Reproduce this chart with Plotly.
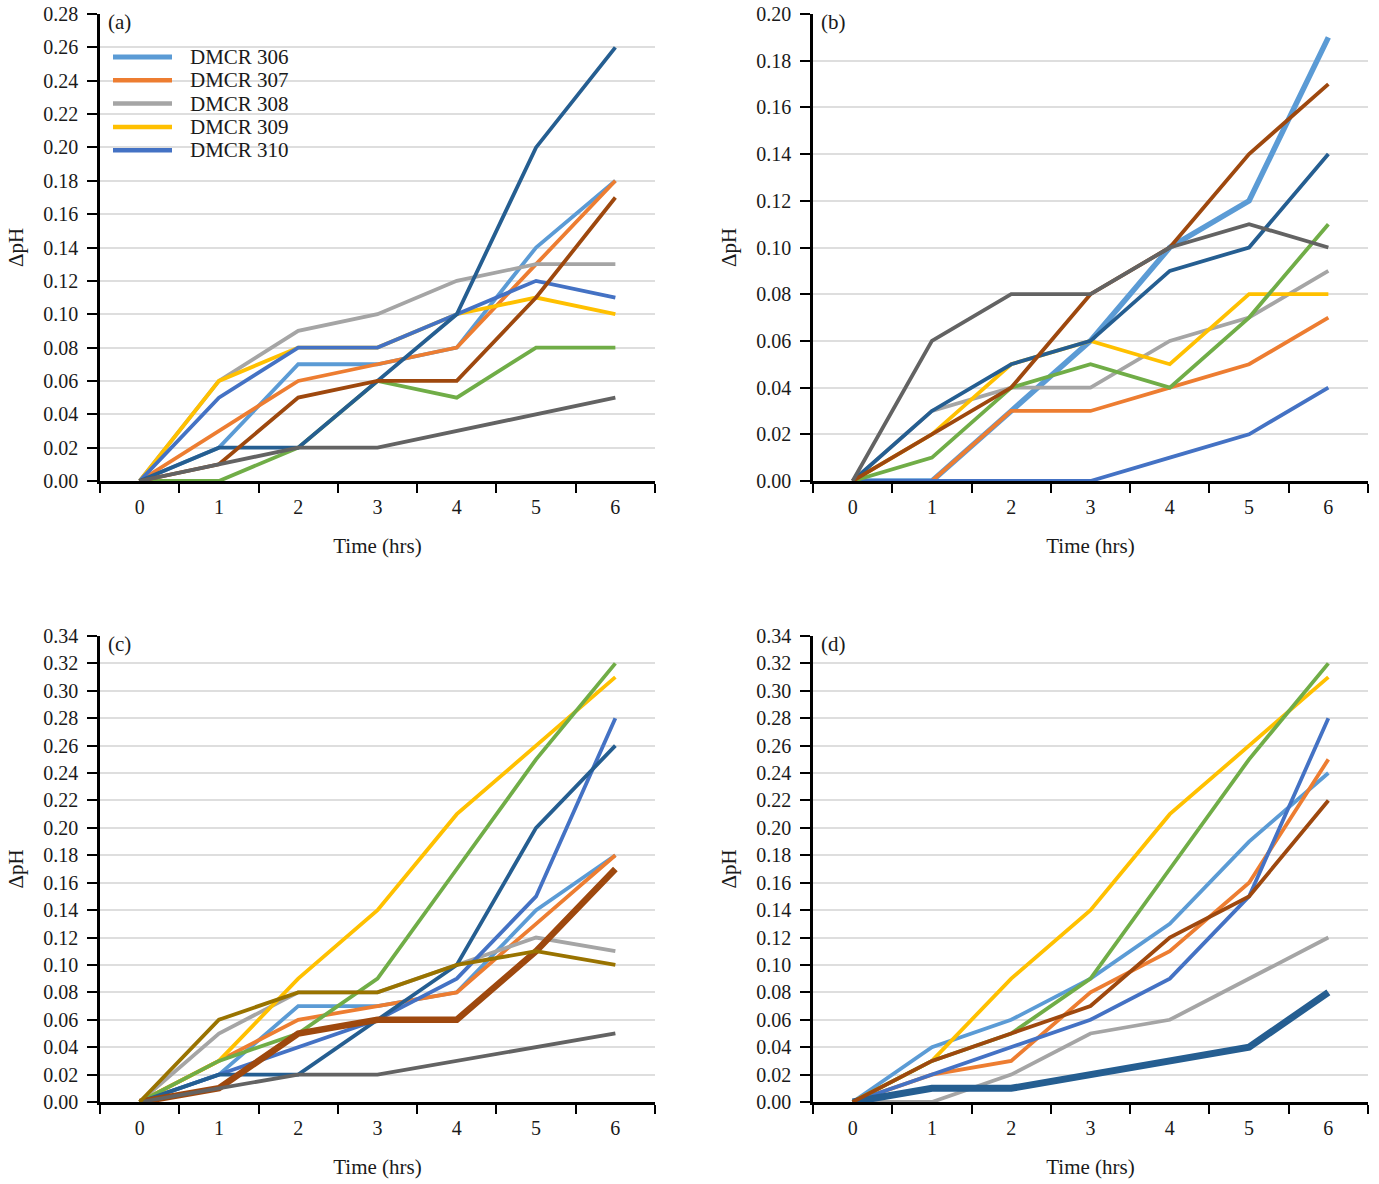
import plotly.graph_objects as go

HOURS = ["0", "1", "2", "3", "4", "5", "6"]
NAMES = ["DMCR 306", "DMCR 307", "DMCR 308", "DMCR 309", "DMCR 310",
         "DMCR 311", "DMCR 312", "DMCR 313", "DMCR 314", "DMCR 315"]

# panel (a)
PANEL_A = [
    [0, 0.02, 0.07, 0.07, 0.08, 0.14, 0.18],
    [0, 0.03, 0.06, 0.07, 0.08, 0.13, 0.18],
    [0, 0.06, 0.09, 0.10, 0.12, 0.13, 0.13],
    [0, 0.06, 0.08, 0.08, 0.10, 0.11, 0.10],
    [0, 0.05, 0.08, 0.08, 0.10, 0.12, 0.11],
    [0, 0.00, 0.02, 0.06, 0.05, 0.08, 0.08],
    [0, 0.02, 0.02, 0.06, 0.10, 0.20, 0.26],
    [0, 0.01, 0.05, 0.06, 0.06, 0.11, 0.17],
    [0, 0.01, 0.02, 0.02, 0.03, 0.04, 0.05],
]

# panel (b)
PANEL_B = [
    [0, 0.00, 0.03, 0.06, 0.10, 0.12, 0.19],
    [0, 0.00, 0.03, 0.03, 0.04, 0.05, 0.07],
    [0, 0.03, 0.04, 0.04, 0.06, 0.07, 0.09],
    [0, 0.02, 0.05, 0.06, 0.05, 0.08, 0.08],
    [0, 0.00, 0.00, 0.00, 0.01, 0.02, 0.04],
    [0, 0.01, 0.04, 0.05, 0.04, 0.07, 0.11],
    [0, 0.03, 0.05, 0.06, 0.09, 0.10, 0.14],
    [0, 0.02, 0.04, 0.08, 0.10, 0.14, 0.17],
    [0, 0.06, 0.08, 0.08, 0.10, 0.11, 0.10],
]

# panel (c)
PANEL_C = [
    [0, 0.02, 0.07, 0.07, 0.08, 0.14, 0.18],
    [0, 0.03, 0.06, 0.07, 0.08, 0.13, 0.18],
    [0, 0.05, 0.08, 0.08, 0.10, 0.12, 0.11],
    [0, 0.03, 0.09, 0.14, 0.21, 0.26, 0.31],
    [0, 0.02, 0.04, 0.06, 0.09, 0.15, 0.28],
    [0, 0.03, 0.05, 0.09, 0.17, 0.25, 0.32],
    [0, 0.02, 0.02, 0.06, 0.10, 0.20, 0.26],
    [0, 0.01, 0.05, 0.06, 0.06, 0.11, 0.17],
    [0, 0.01, 0.02, 0.02, 0.03, 0.04, 0.05],
    [0, 0.06, 0.08, 0.08, 0.10, 0.11, 0.10],
]

# panel (d)
PANEL_D = [
    [0, 0.04, 0.06, 0.09, 0.13, 0.19, 0.24],
    [0, 0.02, 0.03, 0.08, 0.11, 0.16, 0.25],
    [0, 0.00, 0.02, 0.05, 0.06, 0.09, 0.12],
    [0, 0.03, 0.09, 0.14, 0.21, 0.26, 0.31],
    [0, 0.02, 0.04, 0.06, 0.09, 0.15, 0.28],
    [0, 0.03, 0.05, 0.09, 0.17, 0.25, 0.32],
    [0, 0.01, 0.01, 0.02, 0.03, 0.04, 0.08],
    [0, 0.03, 0.05, 0.07, 0.12, 0.15, 0.22],
]

Y_MAX = [0.28, 0.20, 0.34, 0.34]

# excel office palette
COLORS = ["#5B9BD5", "#ED7D31", "#A5A5A5", "#FFC000", "#4472C4",
          "#70AD47", "#255E91", "#9E480E", "#636363", "#997300"]

W, H = 1379, 1184
FONT = "Liberation Serif"
TXT = "#1a1a1a"

# plot boxes in pixels: (left, right, top, bottom)
BOXES = [(100, 655, 14, 481), (813, 1368, 14, 481),
         (100, 655, 636, 1102), (813, 1368, 636, 1102)]
THICK = [(None, 0), (0, 5.5), (7, 6.5), (6, 7)]
LABELS = ["(a)", "(b)", "(c)", "(d)"]

fig = go.Figure()

for p, panel in enumerate([PANEL_A, PANEL_B, PANEL_C, PANEL_D]):
    sfx = "" if p == 0 else str(p + 1)
    for i, vals in enumerate(panel):
        width = THICK[p][1] if THICK[p][0] == i else 3.8
        fig.add_trace(
            go.Scatter(
                x=HOURS,
                y=vals,
                mode="lines",
                name=NAMES[i],
                line=dict(color=COLORS[i], width=width),
                xaxis="x" + sfx,
                yaxis="y" + sfx,
                showlegend=False,
            )
        )

    left, right, top, bottom = BOXES[p]
    fig.layout["xaxis" + sfx] = dict(
        domain=[left / W, right / W],
        anchor="y" + sfx,
        type="category",
        range=[-0.5, 6.5],
        tickson="boundaries",
        ticks="outside",
        ticklen=9,
        tickwidth=2,
        tickcolor="black",
        showline=True,
        linecolor="black",
        linewidth=2.5,
        showgrid=False,
        automargin=False,
        ticklabelstandoff=6,
        tickfont=dict(family=FONT, size=20, color=TXT),
        title=dict(text="Time (hrs)", font=dict(family=FONT, size=21, color=TXT), standoff=22),
    )
    fig.layout["yaxis" + sfx] = dict(
        domain=[1 - bottom / H, 1 - top / H],
        anchor="x" + sfx,
        range=[0, Y_MAX[p] + 1e-6],
        tick0=0,
        dtick=0.02,
        tickformat=".2f",
        ticks="outside",
        ticklen=10,
        tickwidth=2,
        tickcolor="black",
        showline=True,
        linecolor="black",
        linewidth=2.5,
        showgrid=True,
        gridcolor="#dedede",
        gridwidth=2,
        zeroline=False,
        automargin=False,
        ticklabeloverflow="allow",
        ticklabelstandoff=5,
        tickfont=dict(family=FONT, size=20, color=TXT),
        title=dict(text="ΔpH", font=dict(family=FONT, size=21, color=TXT), standoff=14),
    )
    fig.add_annotation(
        text=LABELS[p],
        xref="x" + sfx + " domain",
        yref="y" + sfx + " domain",
        x=0.0,
        y=1,
        xanchor="left",
        yanchor="middle",
        xshift=6,
        yshift=-8,
        showarrow=False,
        font=dict(family=FONT, size=21, color=TXT),
    )

# legend of panel (a), drawn as swatches + labels in paper space
for i in range(5):
    yy = 1 - (57 + 23.3 * i) / H
    fig.add_shape(
        type="line",
        xref="paper",
        yref="paper",
        x0=113 / W,
        x1=172 / W,
        y0=yy,
        y1=yy,
        line=dict(color=COLORS[i], width=5 if i == 0 else 4.5),
    )
    fig.add_annotation(
        text=NAMES[i],
        xref="paper",
        yref="paper",
        x=188 / W,
        y=yy,
        xanchor="left",
        yanchor="middle",
        showarrow=False,
        font=dict(family=FONT, size=21, color=TXT),
    )

fig.update_layout(
    width=W,
    height=H,
    template="none",
    margin=dict(l=0, r=0, t=0, b=0),
    paper_bgcolor="white",
    plot_bgcolor="white",
    showlegend=False,
)

# drop the browser's default 8px body margin so the figure fills the window
fig.write_html(
    "out.html",
    config={"displayModeBar": False},
    post_script="document.body.style.margin = '0';",
)
